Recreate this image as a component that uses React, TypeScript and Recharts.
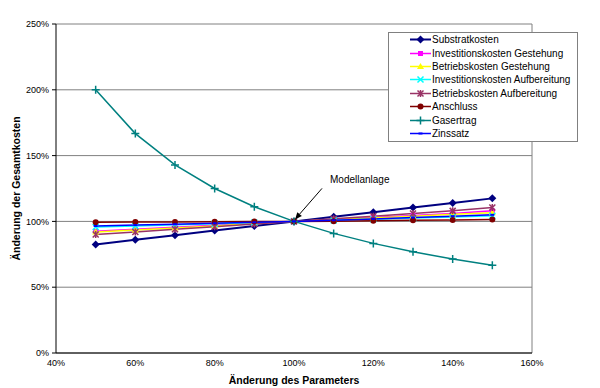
import React from "react";
import {
  LineChart,
  Line,
  XAxis,
  YAxis,
  CartesianGrid,
  ReferenceLine,
  ReferenceDot,
  Label,
} from "recharts";

const parameterChange = [50, 60, 70, 80, 90, 100, 110, 120, 130, 140, 150];

const substratkosten = [82.5, 86, 89.5, 93, 96.5, 100, 103.5, 107, 110.5, 114, 117.5];
const investGestehung = [92.5, 94, 95.5, 97, 98.5, 100, 101.5, 103, 104.5, 106, 108];
const betriebGestehung = [92, 93.5, 95, 96.5, 98.5, 100, 101.5, 102.5, 104, 105.5, 106.5];
const investAufbereitung = [95.8, 96.5, 97.5, 98.3, 99.2, 100, 100.8, 101.7, 102.5, 103.3, 104.2];
const betriebAufbereitung = [90, 92, 94, 96, 98, 100, 102, 104, 106, 108, 110.5];
const anschluss = [99.4, 99.5, 99.6, 99.8, 99.9, 100, 100.2, 100.5, 100.8, 101.1, 101.4];
const gasertrag = [200, 166.7, 142.9, 125, 111.1, 100, 90.9, 83.3, 76.9, 71.4, 66.7];
const zinssatz = [96.5, 97.2, 97.9, 98.6, 99.3, 100, 100.9, 101.9, 102.9, 104, 105];

const xTicks = [40, 60, 80, 100, 120, 140, 160];
const yTicks = [0, 50, 100, 150, 200, 250];

type Shape = "diamond" | "square" | "triangle" | "cross" | "star" | "circle" | "plus" | "dash";

const series: { key: string; name: string; color: string; shape: Shape; width: number; values: number[] }[] = [
  { key: "s1", name: "Substratkosten", color: "#000080", shape: "diamond", width: 2, values: substratkosten },
  { key: "s2", name: "Investitionskosten Gestehung", color: "#FF00FF", shape: "square", width: 1.5, values: investGestehung },
  { key: "s3", name: "Betriebskosten Gestehung", color: "#FFFF00", shape: "triangle", width: 1.5, values: betriebGestehung },
  { key: "s4", name: "Investitionskosten Aufbereitung", color: "#00FFFF", shape: "cross", width: 1.5, values: investAufbereitung },
  { key: "s5", name: "Betriebskosten Aufbereitung", color: "#993366", shape: "star", width: 1.5, values: betriebAufbereitung },
  { key: "s6", name: "Anschluss", color: "#800000", shape: "circle", width: 1.5, values: anschluss },
  { key: "s7", name: "Gasertrag", color: "#008080", shape: "plus", width: 1.5, values: gasertrag },
  { key: "s8", name: "Zinssatz", color: "#0000FF", shape: "dash", width: 1.5, values: zinssatz },
];

const data = parameterChange.map((x, i) => {
  const row: Record<string, number> = { x };
  series.forEach((s) => (row[s.key] = s.values[i]));
  return row;
});

const FONT = '"Liberation Sans", Arial, sans-serif';

const Marker = ({ shape, color, cx, cy }: { shape: Shape; color: string; cx: number; cy: number }) => {
  switch (shape) {
    case "diamond":
      return <polygon points={`${cx},${cy - 4} ${cx + 4},${cy} ${cx},${cy + 4} ${cx - 4},${cy}`} fill={color} />;
    case "square":
      return <rect x={cx - 2.5} y={cy - 2.5} width={5} height={5} fill={color} />;
    case "triangle":
      return <polygon points={`${cx},${cy - 3.5} ${cx + 3.5},${cy + 2.5} ${cx - 3.5},${cy + 2.5}`} fill={color} />;
    case "cross":
      return (
        <path d={`M${cx - 3},${cy - 3}L${cx + 3},${cy + 3}M${cx - 3},${cy + 3}L${cx + 3},${cy - 3}`} stroke={color} strokeWidth={1.5} />
      );
    case "star":
      return (
        <path
          d={`M${cx - 3},${cy - 3}L${cx + 3},${cy + 3}M${cx - 3},${cy + 3}L${cx + 3},${cy - 3}M${cx},${cy - 3.5}L${cx},${cy + 3.5}`}
          stroke={color}
          strokeWidth={1.5}
        />
      );
    case "circle":
      return <circle cx={cx} cy={cy} r={3} fill={color} />;
    case "plus":
      return <path d={`M${cx - 4},${cy}L${cx + 4},${cy}M${cx},${cy - 4}L${cx},${cy + 4}`} stroke={color} strokeWidth={1.5} />;
    case "dash":
      return <rect x={cx - 2} y={cy - 1} width={4} height={2} fill={color} />;
  }
};

const Annotation = (props: any) => {
  const { cx, cy } = props;
  const tip = { x: cx + 1, y: cy - 2 };
  const tail = { x: cx + 28, y: cy - 33 };
  const dx = tip.x - tail.x;
  const dy = tip.y - tail.y;
  const len = Math.hypot(dx, dy);
  const ux = dx / len;
  const uy = dy / len;
  const bx = tip.x - ux * 7;
  const by = tip.y - uy * 7;
  return (
    <g>
      <line x1={tail.x} y1={tail.y} x2={bx} y2={by} stroke="#000" strokeWidth={1} />
      <polygon
        points={`${tip.x},${tip.y} ${bx - uy * 3},${by + ux * 3} ${bx + uy * 3},${by - ux * 3}`}
        fill="#000"
      />
      <text x={cx + 36} y={cy - 38} fontSize={10} fontFamily={FONT} fill="#000">
        Modellanlage
      </text>
    </g>
  );
};

const ChartLegend = () => (
  <div
    style={{
      position: "absolute",
      left: 388,
      top: 32,
      width: 188,
      background: "#fff",
      border: "1px solid #808080",
      fontFamily: FONT,
      fontSize: 10,
      padding: "0 0 1px 0",
    }}
  >
    {series.map((s) => (
      <div key={s.key} style={{ display: "flex", alignItems: "center", height: 13.4 }}>
        <svg width={43} height={13} style={{ flex: "none" }}>
          <line x1={21} y1={6.5} x2={42} y2={6.5} stroke={s.color} strokeWidth={s.width} />
          <Marker shape={s.shape} color={s.color} cx={31.5} cy={6.5} />
        </svg>
        <span style={{ whiteSpace: "nowrap", lineHeight: "13px" }}>{s.name}</span>
      </div>
    ))}
  </div>
);

export default function App() {
  return (
    <div style={{ position: "absolute", left: 0, top: 0, width: 600, height: 388, background: "#fff" }}>
      <LineChart width={600} height={388} data={data} margin={{ top: 24, right: 68, bottom: 0, left: 0 }}>
        <CartesianGrid vertical={false} stroke="#808080" />
        <XAxis
          dataKey="x"
          type="number"
          domain={[40, 160]}
          ticks={xTicks}
          tickFormatter={(v) => `${v}%`}
          height={35}
          tickLine={false}
          tickSize={6}
          tickMargin={1}
          axisLine={{ stroke: "#000" }}
          tick={{ fontSize: 9, fill: "#000", fontFamily: FONT }}
        >
          <Label
            content={({ viewBox }: any) => (
              <text
                x={viewBox.x + viewBox.width / 2}
                y={viewBox.y + 31}
                textAnchor="middle"
                fontSize={10.5}
                fontWeight="bold"
                fontFamily={FONT}
                fill="#000"
              >
                Änderung des Parameters
              </text>
            )}
          />
        </XAxis>
        <YAxis
          type="number"
          domain={[0, 250]}
          ticks={yTicks}
          tickFormatter={(v) => `${v}%`}
          width={56}
          tickSize={4}
          tickMargin={3}
          tickLine={{ stroke: "#000" }}
          axisLine={{ stroke: "#000" }}
          tick={{ fontSize: 9, fill: "#000", fontFamily: FONT }}
        >
          <Label
            content={({ viewBox }: any) => {
              const x = 20;
              const y = viewBox.y + viewBox.height / 2;
              return (
                <text
                  x={x}
                  y={y}
                  transform={`rotate(-90, ${x}, ${y})`}
                  textAnchor="middle"
                  fontSize={10.5}
                  fontWeight="bold"
                  fontFamily={FONT}
                  fill="#000"
                >
                  Änderung der Gesamtkosten
                </text>
              );
            }}
          />
        </YAxis>
        <ReferenceLine x={160} stroke="#808080" />
        {series.map((s) => (
          <Line
            key={s.key}
            dataKey={s.key}
            name={s.name}
            type="linear"
            stroke={s.color}
            strokeWidth={s.width}
            isAnimationActive={false}
            activeDot={false}
            dot={(p: any) => <Marker key={`${s.key}-${p.index}`} shape={s.shape} color={s.color} cx={p.cx} cy={p.cy} />}
          />
        ))}
        <ReferenceDot x={100} y={100} r={0} shape={Annotation} />
      </LineChart>
      <ChartLegend />
    </div>
  );
}
